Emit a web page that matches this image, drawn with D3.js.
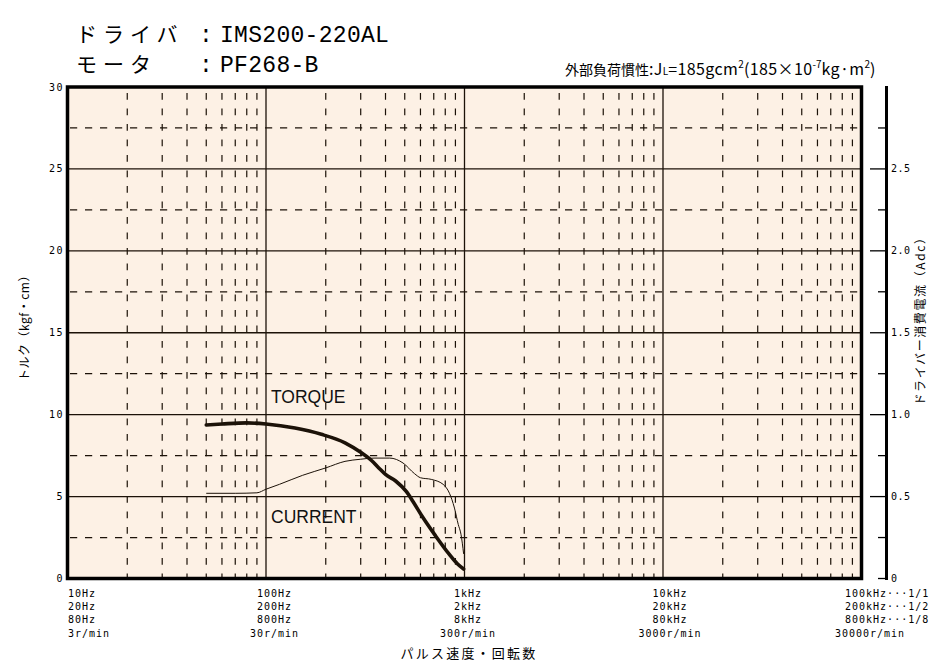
<!DOCTYPE html>
<html><head><meta charset="utf-8">
<script src="https://cdn.jsdelivr.net/npm/d3@7"></script>
<style>
html,body{margin:0;padding:0;background:#fff;}
svg{display:block;}
</style></head>
<body>
<svg id="chart" width="950" height="670"></svg>
<script>
// ---- data ----
const torqueFreq   = [50, 60, 80, 100, 140, 190, 250, 300, 340, 370, 400, 450, 510, 550, 615, 715, 835, 920, 990];
const torqueValues = [9.37, 9.43, 9.5, 9.43, 9.18, 8.8, 8.28, 7.7, 7.2, 6.75, 6.35, 5.95, 5.3, 4.7, 3.75, 2.6, 1.5, 0.9, 0.58];
const currentFreq   = [50, 70, 90, 100, 117, 153, 200, 250, 300, 350, 420, 490, 560, 600, 680, 780, 840, 890, 930, 960, 990];
const currentValues = [0.52, 0.52, 0.523, 0.545, 0.575, 0.63, 0.675, 0.715, 0.728, 0.735, 0.735, 0.705, 0.64, 0.615, 0.605, 0.575, 0.52, 0.43, 0.33, 0.27, 0.15];
const leftTicks  = [0, 5, 10, 15, 20, 25, 30];
const rightTicks = [0, 0.5, 1.0, 1.5, 2.0, 2.5];
const rightTickLabels = ["0", "0.5", "1.0", "1.5", "2.0", "2.5"];
const xLabelFreqs = [10, 100, 1000, 10000, 100000];
const xLabelLine1 = ["10Hz", "100Hz", "1kHz", "10kHz", "100kHz\u00b7\u00b7\u00b71/1"];
const xLabelLine2 = ["20Hz", "200Hz", "2kHz", "20kHz", "200kHz\u00b7\u00b7\u00b71/2"];
const xLabelLine3 = ["80Hz", "800Hz", "8kHz", "80kHz", "800kHz\u00b7\u00b7\u00b71/8"];
const xLabelLine4 = ["3r/min", "30r/min", "300r/min", "3000r/min", "30000r/min"];

// ---- setup ----
const svg = d3.select("#chart");
const ink = "#1c1208";
const x = d3.scaleLog().domain([10, 100000]).range([67.5, 861.5]);
const y = d3.scaleLinear().domain([0, 30]).range([578.5, 87]);
const yR = d3.scaleLinear().domain([0, 3]).range([578.5, 87]);

const mono = "'DejaVu Sans Mono', 'Liberation Mono', monospace";
const mono2 = "'Liberation Mono', 'DejaVu Sans Mono', monospace";
const jp = "'Noto Sans CJK JP', 'Noto Sans', sans-serif";

// background
svg.append("rect").attr("x", x(10)).attr("y", y(30))
  .attr("width", x(100000) - x(10)).attr("height", y(0) - y(30))
  .attr("fill", "#fdf1e5");

// grid: vertical
const minorFreqs = [];
const decades = [10, 100, 1000, 10000];
decades.forEach(d => { for (let k = 2; k <= 9; k++) minorFreqs.push(d * k); });
const g = svg.append("g");
g.selectAll(".vminor").data(minorFreqs).enter().append("line")
  .attr("x1", d => x(d)).attr("x2", d => x(d))
  .attr("y1", y(30) + 6).attr("y2", y(0))
  .attr("stroke", ink).attr("stroke-width", 1.2).attr("stroke-dasharray", "6.7,8.8");
g.selectAll(".vmajor").data([100, 1000, 10000]).enter().append("line")
  .attr("x1", d => x(d)).attr("x2", d => x(d))
  .attr("y1", y(30)).attr("y2", y(0))
  .attr("stroke", ink).attr("stroke-width", 1.3);
// grid: horizontal
const hMinor = d3.range(2.5, 30, 5);
const hMajor = d3.range(5, 30, 5);
g.selectAll(".hminor").data(hMinor).enter().append("line")
  .attr("x1", x(10) + 2.5).attr("x2", x(100000))
  .attr("y1", d => y(d)).attr("y2", d => y(d))
  .attr("stroke", ink).attr("stroke-width", 1.2).attr("stroke-dasharray", "7.2,7.8");
g.selectAll(".hmajor").data(hMajor).enter().append("line")
  .attr("x1", x(10)).attr("x2", x(100000))
  .attr("y1", d => y(d)).attr("y2", d => y(d))
  .attr("stroke", ink).attr("stroke-width", 1.3);

// frame
svg.append("rect").attr("x", x(10)).attr("y", y(30))
  .attr("width", x(100000) - x(10)).attr("height", y(0) - y(30))
  .attr("fill", "none").attr("stroke", "#000").attr("stroke-width", 3.5);

// curves
const line = d3.line().x(d => x(d[0])).y(d => d[1]).curve(d3.curveMonotoneX);
const torquePts = torqueFreq.map((f, i) => [f, y(torqueValues[i])]);
const currentPts = currentFreq.map((f, i) => [f, yR(currentValues[i])]);
svg.append("path").attr("d", line(currentPts)).attr("fill", "none")
  .attr("stroke", ink).attr("stroke-width", 1);
svg.append("path").attr("d", line(torquePts)).attr("fill", "none")
  .attr("stroke", ink).attr("stroke-width", 3.6).attr("stroke-linecap", "round").attr("stroke-linejoin", "round");

// curve labels
svg.append("text").attr("x", 271).attr("y", 403).text("TORQUE")
  .attr("font-family", "'Liberation Sans', Arial, sans-serif").attr("font-size", 17.5).attr("fill", "#111");
svg.append("text").attr("x", 271).attr("y", 523).text("CURRENT")
  .attr("font-family", "'Liberation Sans', Arial, sans-serif").attr("font-size", 17.5).attr("fill", "#111");

// left axis labels
svg.selectAll(".ly").data(leftTicks).enter().append("text")
  .attr("x", 64).attr("y", d => y(d)).attr("dy", "0.35em")
  .attr("text-anchor", "end").attr("font-family", mono).attr("font-size", 10)
  .attr("letter-spacing", 1.5).text(d => d);

// left title
svg.append("text").attr("transform", "translate(29,325) rotate(-90)")
  .attr("text-anchor", "middle").attr("font-family", jp).attr("font-size", 12)
  .attr("letter-spacing", 0.5).text("トルク（kgf・cm）");

// right axis
const rx = 886.5;
svg.append("line").attr("x1", rx).attr("x2", rx).attr("y1", yR(3) - 1).attr("y2", yR(0) + 1.5)
  .attr("stroke", "#000").attr("stroke-width", 3);
const rMinor = d3.range(0, 3, 0.25).filter(v => Math.abs(v * 2 - Math.round(v * 2)) > 0.01);
svg.selectAll(".rminor").data(rMinor.concat([0])).enter().append("line")
  .attr("x1", rx - 8.5).attr("x2", rx).attr("y1", d => yR(d)).attr("y2", d => yR(d))
  .attr("stroke", "#000").attr("stroke-width", 1.3);
svg.selectAll(".rmajor").data(rightTicks.filter(v => v > 0)).enter().append("line")
  .attr("x1", rx - 16.5).attr("x2", rx).attr("y1", d => yR(d)).attr("y2", d => yR(d))
  .attr("stroke", "#000").attr("stroke-width", 1.3);
svg.selectAll(".ry").data(rightTicks).enter().append("text")
  .attr("x", 891).attr("y", d => yR(d)).attr("dy", "0.35em")
  .attr("font-family", mono).attr("font-size", 10).attr("letter-spacing", 0.5)
  .text((d, i) => rightTickLabels[i]);
svg.append("text").attr("transform", "translate(925,318) rotate(-90)")
  .attr("text-anchor", "middle").attr("font-family", jp).attr("font-size", 12)
  .attr("letter-spacing", 1.6).text("ドライバー消費電流（Adc）");

// bottom labels
const lines = [xLabelLine1, xLabelLine2, xLabelLine3, xLabelLine4];
const groupOffset = [0, 8.5, 3.5, 7, 8.5];
lines.forEach((arr, li) => {
  svg.selectAll(".xl" + li).data(xLabelFreqs).enter().append("text")
    .attr("x", (d, i) => {
      if (i === 0) return x(d) + 0.5;
      if (i === 4 && li < 3) return x(d) - 16.5;
      return x(d) + groupOffset[i];
    })
    .attr("y", 597 + li * 13.2)
    .attr("text-anchor", (d, i) => (i === 0 || (i === 4 && li < 3)) ? "start" : "middle")
    .attr("font-family", mono).attr("font-size", 10).attr("letter-spacing", 1)
    .text((d, i) => arr[i]);
});
svg.append("text").attr("x", 469).attr("y", 658).attr("text-anchor", "middle")
  .attr("font-family", jp).attr("font-size", 13).attr("letter-spacing", 2.2)
  .text("パルス速度・回転数");

// header
svg.append("text").attr("x", 76).attr("y", 42).attr("font-family", jp).attr("font-size", 21)
  .attr("letter-spacing", 6).text("ドライバ");
svg.append("text").attr("x", 76).attr("y", 72).attr("font-family", jp).attr("font-size", 21)
  .attr("letter-spacing", 6).text("モータ");
[42, 72].forEach(yy => svg.append("text").attr("x", 199).attr("y", yy)
  .attr("font-family", mono2).attr("font-size", 23).text(":"));
svg.append("text").attr("x", 220).attr("y", 42).attr("font-family", mono2).attr("font-size", 23)
  .attr("letter-spacing", 0.3).text("IMS200-220AL");
svg.append("text").attr("x", 220).attr("y", 72).attr("font-family", mono2).attr("font-size", 23)
  .attr("letter-spacing", 0.3).text("PF268-B");

// inertia annotation
const ann = svg.append("text").attr("x", 565).attr("y", 75).attr("font-family", jp).attr("font-size", 16);
ann.append("tspan").attr("font-size", 14).text("外部負荷慣性");
ann.append("tspan").attr("letter-spacing", 0.4).text(":J");
ann.append("tspan").attr("font-size", 10).text("L");
ann.append("tspan").attr("letter-spacing", 0.4).text("=185gcm");
ann.append("tspan").attr("font-size", 10).attr("dy", -7).text("2");
ann.append("tspan").attr("dy", 7).attr("letter-spacing", 0.4).text("(185×10");
ann.append("tspan").attr("font-size", 10).attr("dy", -7).text("-7");
ann.append("tspan").attr("dy", 7).attr("letter-spacing", 0.4).text("kg·m");
ann.append("tspan").attr("font-size", 10).attr("dy", -7).text("2");
ann.append("tspan").attr("dy", 7).text(")");
</script>
</body></html>
